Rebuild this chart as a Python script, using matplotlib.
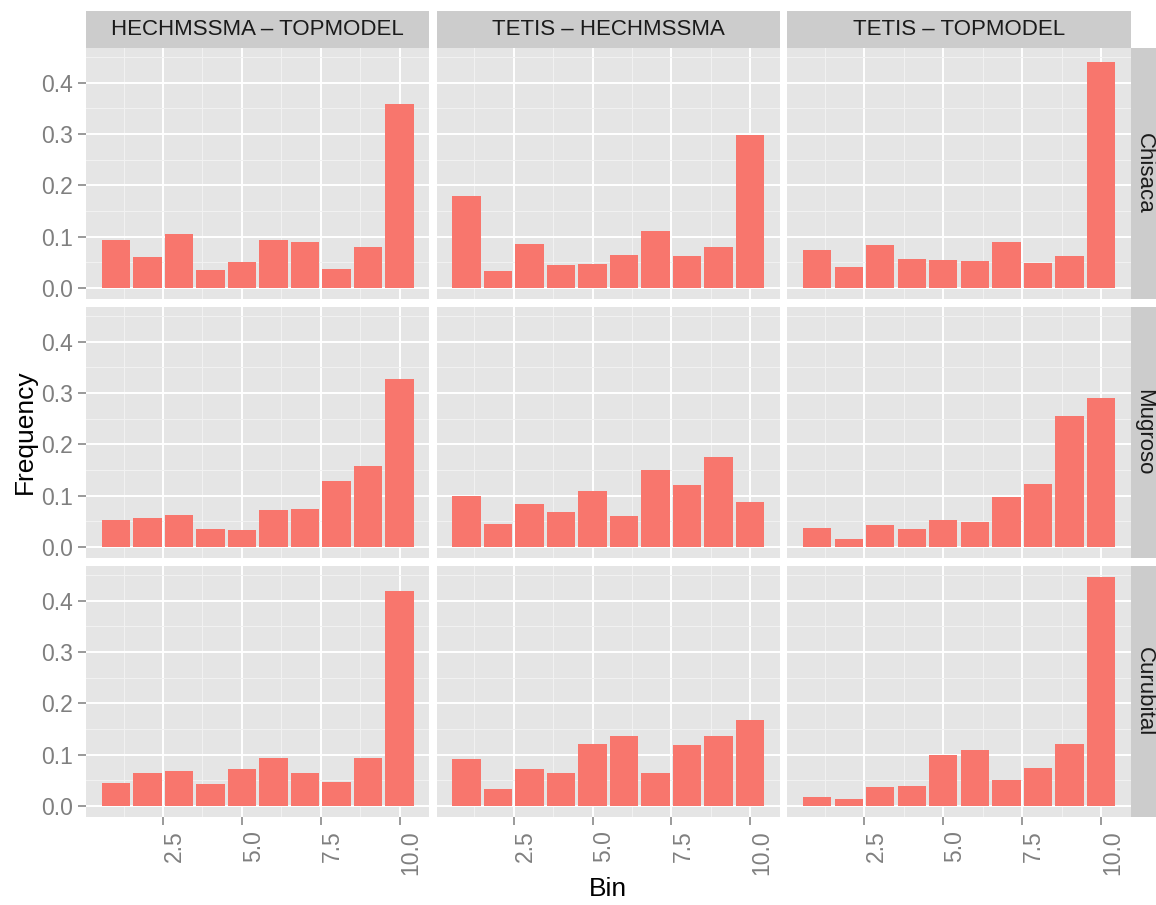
import numpy as np
import matplotlib
matplotlib.use("Agg")
import matplotlib.pyplot as plt

plt.rcParams['font.family'] = ['Liberation Sans', 'DejaVu Sans']

bins = [1, 2, 3, 4, 5, 6, 7, 8, 9, 10]
pairs = ["HECHMSSMA – TOPMODEL", "TETIS – HECHMSSMA", "TETIS – TOPMODEL"]
sites = ["Chisaca", "Mugroso", "Curubital"]

# frequency per bin, one list per (site, pair)
chisaca_hech_top = [0.093, 0.061, 0.106, 0.034, 0.050, 0.093, 0.089, 0.036, 0.079, 0.358]
chisaca_tetis_hech = [0.179, 0.032, 0.085, 0.044, 0.046, 0.065, 0.110, 0.063, 0.079, 0.298]
chisaca_tetis_top = [0.073, 0.040, 0.083, 0.057, 0.055, 0.053, 0.089, 0.048, 0.063, 0.440]
mugroso_hech_top = [0.053, 0.057, 0.063, 0.035, 0.033, 0.072, 0.074, 0.129, 0.158, 0.328]
mugroso_tetis_hech = [0.100, 0.045, 0.084, 0.068, 0.109, 0.061, 0.149, 0.121, 0.176, 0.088]
mugroso_tetis_top = [0.037, 0.016, 0.043, 0.035, 0.053, 0.049, 0.098, 0.123, 0.256, 0.291]
curubital_hech_top = [0.044, 0.064, 0.068, 0.042, 0.072, 0.093, 0.064, 0.046, 0.093, 0.419]
curubital_tetis_hech = [0.091, 0.033, 0.072, 0.064, 0.120, 0.136, 0.064, 0.118, 0.136, 0.167]
curubital_tetis_top = [0.017, 0.013, 0.036, 0.038, 0.099, 0.108, 0.050, 0.074, 0.120, 0.446]

freq = {
    "Chisaca": [chisaca_hech_top, chisaca_tetis_hech, chisaca_tetis_top],
    "Mugroso": [mugroso_hech_top, mugroso_tetis_hech, mugroso_tetis_top],
    "Curubital": [curubital_hech_top, curubital_tetis_hech, curubital_tetis_top],
}

yticks = [0.0, 0.1, 0.2, 0.3, 0.4]
xticks = [2.5, 5.0, 7.5, 10.0]

W, H = 1156, 905
fig = plt.figure(figsize=(W / 100, H / 100), dpi=100)

def box(x0, y0, x1, y1):
    # pixel box (top-left origin) -> figure fraction
    return [x0 / W, 1 - y1 / H, (x1 - x0) / W, (y1 - y0) / H]

col_x = [(86, 429.3), (436.7, 780), (787.4, 1130.7)]
row_y = [(47.7, 299.3), (306.7, 558.3), (565.7, 817.3)]

ymax = max(max(v) for s in sites for v in freq[s])
ylim = (-0.05 * ymax, 1.05 * ymax)
xlim = (0.55 - 0.05 * 9.9, 10.45 + 0.05 * 9.9)

tick_col = '#7F7F7F'
for r, site in enumerate(sites):
    for c, pair in enumerate(pairs):
        ax = fig.add_axes(box(col_x[c][0], row_y[r][0], col_x[c][1], row_y[r][1]))
        ax.set_facecolor('#E5E5E5')
        ax.set_axisbelow(True)
        ax.bar(bins, freq[site][c], width=0.9, color='#F8766D', linewidth=0)
        ax.set_xlim(xlim)
        ax.set_ylim(ylim)
        ax.set_xticks(xticks)
        ax.set_xticks([1.25, 3.75, 6.25, 8.75], minor=True)
        ax.set_yticks(yticks)
        ax.set_yticks([0.05, 0.15, 0.25, 0.35, 0.45], minor=True)
        ax.grid(which='major', color='white', linewidth=1.4)
        ax.grid(which='minor', color='#F2F2F2', linewidth=0.7)
        for sp in ax.spines.values():
            sp.set_visible(False)
        ax.tick_params(which='minor', length=0)
        ax.tick_params(which='major', length=6, width=1.1, color=tick_col,
                       labelcolor=tick_col, labelsize=16.5, pad=3.5)
        if c == 0:
            ax.set_yticklabels(["%.1f" % v for v in yticks])
        else:
            ax.tick_params(left=False, labelleft=False)
        if r == len(sites) - 1:
            ax.set_xticklabels(["%.1f" % v for v in xticks], rotation=90,
                               ha='left', va='top')
        else:
            ax.tick_params(bottom=False, labelbottom=False)

# column strips
for c, pair in enumerate(pairs):
    sa = fig.add_axes(box(col_x[c][0], 11, col_x[c][1], 47.7))
    sa.set_facecolor('#CCCCCC')
    sa.set_xticks([])
    sa.set_yticks([])
    for sp in sa.spines.values():
        sp.set_visible(False)
    sa.text(0.5, 0.5, pair, ha='center', va='center', fontsize=16,
            color='#1A1A1A', transform=sa.transAxes)

# row strips
for r, site in enumerate(sites):
    sa = fig.add_axes(box(1130.7, row_y[r][0], 1164, row_y[r][1]))
    sa.set_facecolor('#CCCCCC')
    sa.set_xticks([])
    sa.set_yticks([])
    for sp in sa.spines.values():
        sp.set_visible(False)
    fig.text(1144 / W, 1 - (row_y[r][0] + row_y[r][1]) / 2 / H, site,
             ha='center', va='center', rotation=-90, fontsize=16, color='#1A1A1A')

fig.text(608 / W, 1 - 889 / H, "Bin", ha='center', va='center', fontsize=19)
fig.text(25 / W, 1 - 432 / H, "Frequency", ha='center', va='center',
         rotation=90, fontsize=19)

fig.savefig("out.png", dpi=100)
